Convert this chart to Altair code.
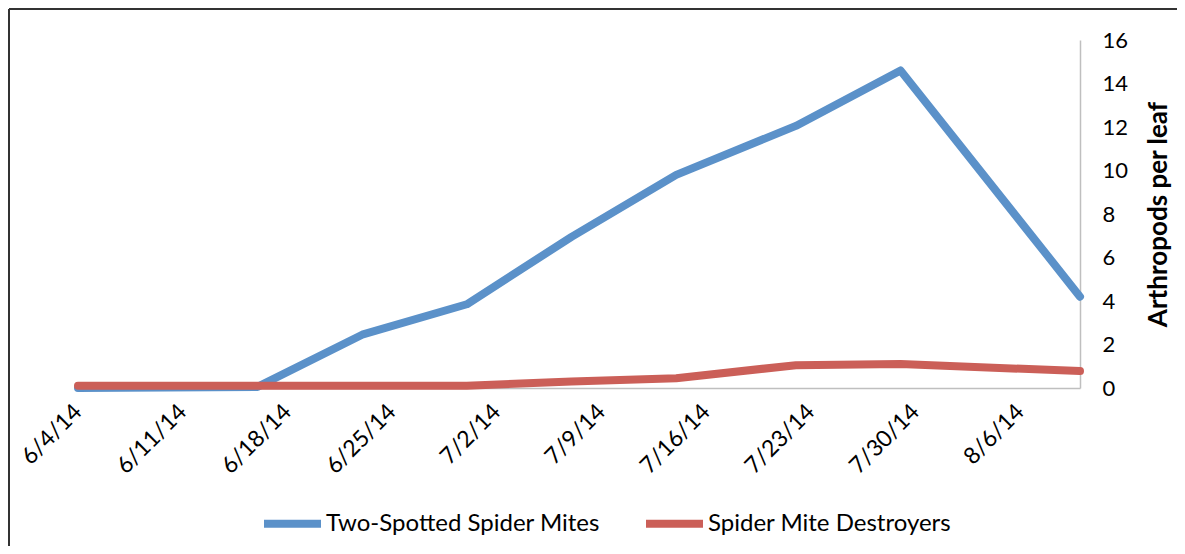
import altair as alt
import pandas as pd

dates = ["2014-06-04", "2014-06-16", "2014-06-23", "2014-06-30", "2014-07-07",
         "2014-07-14", "2014-07-22", "2014-07-29", "2014-08-10"]
two_spotted = [0.0, 0.05, 2.45, 3.85, 6.95, 9.8, 12.05, 14.6, 4.2]
destroyers = [0.1, 0.1, 0.1, 0.1, 0.3, 0.45, 1.05, 1.1, 0.78]
series_names = ["Two-Spotted Spider Mites", "Spider Mite Destroyers"]
series_colors = ["#5B91C9", "#CB5F58"]
tick_dates = ["6/4", "6/11", "6/18", "6/25", "7/2", "7/9", "7/16", "7/23", "7/30", "8/6"]

rows = []
for d, v in zip(dates, two_spotted):
    rows.append({"date": d, "value": v, "series": series_names[0]})
for d, v in zip(dates, destroyers):
    rows.append({"date": d, "value": v, "series": series_names[1]})
df = pd.DataFrame(rows)

tick_values = [alt.DateTime(year=2014, month=int(t.split("/")[0]), date=int(t.split("/")[1]), utc=True)
               for t in tick_dates]

FONT = "Lato"

lines = alt.Chart(df).mark_line(strokeWidth=8, strokeCap="round", strokeJoin="round").encode(
    x=alt.X("date:T",
            scale=alt.Scale(type="utc", domain=[alt.DateTime(year=2014, month=6, date=4, utc=True),
                                                alt.DateTime(year=2014, month=8, date=10, utc=True)],
                            nice=False),
            axis=alt.Axis(title=None, values=tick_values, labelExpr="utcFormat(datum.value, '%-m/%-d/%y')",
                          labelAngle=315, labelFontSize=23, labelFont=FONT, labelColor="#000",
                          ticks=False, grid=False, domainColor="#BFBFBF", domainWidth=1.5,
                          labelPadding=12, labelOffset=-8, labelOverlap=False)),
    y=alt.Y("value:Q", scale=alt.Scale(domain=[0, 16], nice=False),
            axis=alt.Axis(orient="right", title="Arthropods per leaf", titleFontSize=26, titleFont=FONT,
                          titleFontWeight="bold", titleColor="#000", titleAngle=270, titleBaseline="top",
                          titlePadding=18,
                          values=[0, 2, 4, 6, 8, 10, 12, 14, 16], labelFontSize=22, labelFont=FONT,
                          labelColor="#000", ticks=False, grid=False, domainColor="#BFBFBF",
                          domainWidth=1.5, labelPadding=22)),
    color=alt.Color("series:N", scale=alt.Scale(domain=series_names, range=series_colors),
                    legend=alt.Legend(title=None, orient="none", direction="horizontal",
                                      legendX=182, legendY=451, symbolType="stroke",
                                      symbolSize=3249, symbolStrokeWidth=8, labelFontSize=24,
                                      labelFont=FONT, labelColor="#000", labelOffset=1,
                                      labelLimit=500, columnPadding=30)),
)

frame = pd.DataFrame({"k": [0]})
border = alt.Chart(frame).mark_rule(color="#333", strokeWidth=2).encode(
    x=alt.value(-69), x2=alt.value(1100), y=alt.value(-31), y2=alt.value(-31))
border2 = alt.Chart(frame).mark_rule(color="#333", strokeWidth=2).encode(
    x=alt.value(-69), x2=alt.value(-69), y=alt.value(-31), y2=alt.value(520))

chart = alt.layer(border, border2, lines).properties(
    width=1002, height=348,
    autosize=alt.AutoSizeParams(type="none"),
    padding={"left": 70, "top": 32, "right": 97, "bottom": 158}
).configure_view(stroke=None)

chart.save("out.html", embed_options={"renderer": "svg", "actions": False})
